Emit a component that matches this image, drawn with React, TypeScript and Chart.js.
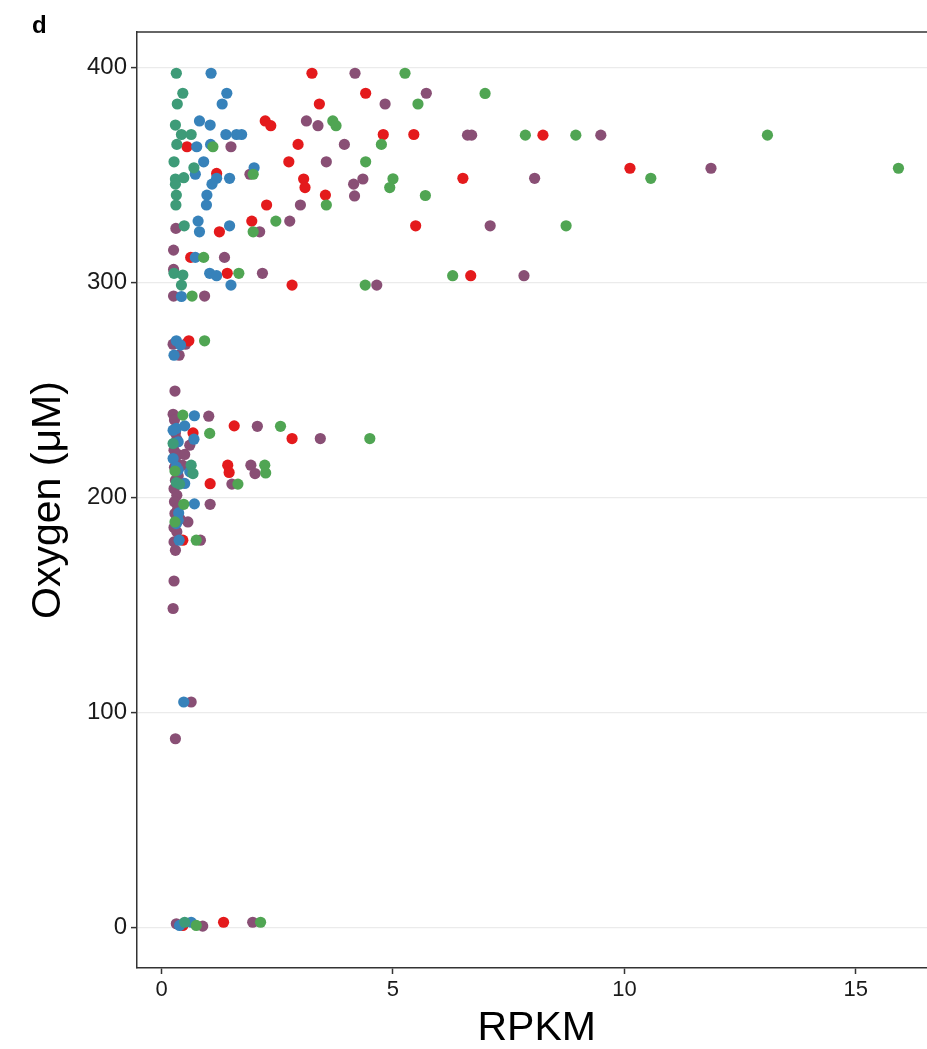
import React, { useEffect, useRef } from 'react';
import { Chart, registerables } from 'chart.js';

Chart.register(...registerables);

const FONT = '"Liberation Sans", Arial, Helvetica, sans-serif';

const xTicks = [0, 5, 10, 15];
const yTicks = [0, 100, 200, 300, 400];

const redX = [3.25, 4.41, 3.41, 2.24, 2.36, 4.79, 5.45, 8.24, 0.55, 2.95, 2.75, 1.19, 10.12, 3.07, 6.51, 3.10, 3.54, 2.27, 1.25, 1.95, 5.49, 0.63, 1.42, 6.68, 2.82, 0.59, 0.68, 1.57, 2.82, 1.43, 1.46, 1.05, 0.46, 0.46, 1.34];
const redY = [397.4, 388.1, 383.1, 375.2, 373.0, 368.9, 368.9, 368.6, 363.2, 364.3, 356.2, 350.8, 353.2, 348.2, 348.5, 344.2, 340.7, 336.1, 323.6, 328.6, 326.4, 311.7, 304.3, 303.2, 298.8, 272.9, 230.0, 233.3, 227.4, 215.0, 211.6, 206.4, 180.1, 0.8, 2.3];

const blueX = [1.07, 1.41, 1.31, 0.82, 1.05, 1.39, 1.62, 1.73, 0.76, 1.06, 0.91, 2.0, 0.73, 1.19, 1.47, 1.09, 0.98, 0.97, 0.79, 0.82, 1.47, 0.73, 1.04, 1.19, 1.50, 0.43, 0.32, 0.41, 0.27, 0.71, 0.32, 0.50, 0.25, 0.36, 0.70, 0.25, 0.32, 0.36, 0.61, 0.50, 0.71, 0.37, 0.36, 0.32, 0.38, 0.48, 0.39, 0.64];
const blueY = [397.4, 388.1, 383.1, 375.2, 373.3, 368.9, 368.9, 368.9, 363.2, 364.3, 356.2, 353.4, 350.4, 348.5, 348.5, 345.8, 340.7, 336.1, 328.6, 323.6, 326.4, 311.7, 304.3, 303.2, 298.8, 293.5, 272.9, 270.9, 266.2, 238.0, 232.1, 233.3, 231.3, 225.9, 227.1, 218.1, 214.2, 212.7, 211.9, 206.5, 197.0, 192.8, 189.4, 187.8, 180.1, 104.8, 0.8, 2.3];

const greenX = [5.26, 6.99, 5.54, 3.70, 3.77, 7.86, 8.95, 13.09, 1.11, 4.75, 4.41, 1.98, 15.92, 5.00, 10.57, 4.93, 5.70, 3.56, 1.98, 2.47, 8.74, 0.91, 1.67, 6.29, 4.40, 0.66, 0.93, 0.46, 1.04, 2.57, 4.50, 2.23, 2.25, 1.65, 0.29, 0.48, 0.29, 0.75, 0.75, 2.14];
const greenY = [397.4, 388.0, 383.1, 375.2, 373.0, 368.6, 368.6, 368.6, 363.2, 364.3, 356.2, 350.4, 353.2, 348.3, 348.5, 344.2, 340.5, 336.1, 323.6, 328.6, 326.4, 311.7, 304.3, 303.2, 298.8, 293.7, 272.9, 238.3, 229.8, 233.1, 227.4, 215.0, 211.4, 206.2, 212.3, 196.8, 188.6, 180.1, 0.8, 2.3];

const tealX = [0.32, 0.46, 0.34, 0.30, 0.43, 0.64, 0.33, 0.27, 0.70, 0.30, 0.48, 0.30, 0.32, 0.31, 0.49, 0.27, 0.46, 0.43, 0.25, 0.64, 0.68, 0.32, 0.39, 0.50];
const tealY = [397.4, 388.1, 383.1, 373.3, 368.9, 368.9, 364.3, 356.2, 353.4, 348.2, 348.8, 345.8, 340.7, 336.1, 326.4, 304.3, 303.5, 298.8, 225.1, 215.0, 211.1, 206.9, 206.2, 2.3];

const purpleX = [4.18, 5.72, 4.83, 3.13, 3.38, 6.61, 6.70, 9.49, 1.50, 3.95, 3.56, 1.91, 11.87, 4.35, 8.06, 4.15, 4.17, 3.00, 0.31, 2.12, 2.77, 7.10, 0.26, 1.36, 0.26, 2.18, 7.83, 4.65, 0.26, 0.93, 0.25, 0.52, 0.38, 0.29, 0.25, 1.02, 2.07, 3.43, 0.61, 1.93, 2.02, 1.52, 1.05, 0.57, 0.84, 0.27, 0.30, 0.27, 0.25, 0.64, 0.30, 0.32, 0.89, 1.97, 0.28, 0.30, 0.33, 0.27, 0.35, 0.30, 0.28, 0.36, 0.30, 0.27, 0.33, 0.28, 0.35, 0.29, 0.40, 0.27, 0.33, 0.50, 0.45];
const purpleY = [397.4, 388.1, 383.1, 375.2, 373.0, 368.6, 368.6, 368.6, 363.2, 364.3, 356.2, 350.4, 353.2, 348.2, 348.5, 345.8, 340.3, 336.1, 325.2, 323.6, 328.6, 326.4, 315.1, 311.7, 306.1, 304.3, 303.2, 298.8, 293.7, 293.7, 271.3, 271.3, 266.2, 249.5, 238.7, 237.8, 233.1, 227.4, 224.3, 215.0, 211.1, 206.2, 196.8, 188.6, 180.1, 179.3, 175.4, 161.1, 148.3, 104.8, 87.7, 1.6, 0.5, 2.3, 236, 230, 227, 222, 220, 217, 214, 210, 208, 204, 201, 198, 195, 192.5, 190, 186, 184, 220, 215];

const toPoints = (xs: number[], ys: number[]) => xs.map((x, i) => ({ x, y: ys[i] }));

const framePlugin = {
  id: 'frame',
  afterDraw(chart: any) {
    const { ctx, chartArea } = chart;
    ctx.save();
    ctx.strokeStyle = '#333333';
    ctx.lineWidth = 1.5;
    ctx.beginPath();
    ctx.moveTo(chartArea.left - 0.75, chartArea.top);
    ctx.lineTo(chartArea.right, chartArea.top);
    ctx.stroke();
    ctx.fillStyle = '#000';
    ctx.font = `bold 24px ${FONT}`;
    ctx.textBaseline = 'alphabetic';
    ctx.textAlign = 'left';
    ctx.fillText('d', 32, 33);
    ctx.restore();
  },
};

export default function App() {
  const ref = useRef<HTMLCanvasElement>(null);
  useEffect(() => {
    const canvas = ref.current;
    if (!canvas) return;
    const mk = (data: any[], color: string, order: number) => ({
      data,
      backgroundColor: color,
      borderWidth: 0,
      pointRadius: 5.6,
      pointHoverRadius: 5.6,
      order,
    });
    const chart = new Chart(canvas, {
      type: 'scatter',
      data: {
        datasets: [
          mk(toPoints(purpleX, purpleY), '#894F75', 4),
          mk(toPoints(redX, redY), '#E41A1C', 3),
          mk(toPoints(blueX, blueY), '#3782BA', 2),
          mk(toPoints(tealX, tealY), '#3E9B78', 1),
          mk(toPoints(greenX, greenY), '#50A553', 0),
        ],
      },
      options: {
        responsive: false,
        animation: false,
        devicePixelRatio: 1,
        layout: { padding: { top: 32, right: 0, left: 0, bottom: 0 } },
        plugins: { legend: { display: false }, tooltip: { enabled: false } },
        scales: {
          x: {
            type: 'linear',
            min: -0.53,
            max: 16.74,
            afterBuildTicks: (s: any) => {
              s.ticks = xTicks.map((v) => ({ value: v }));
            },
            afterFit: (s: any) => {
              s.height = 81;
              s.paddingLeft = 0;
              s.paddingRight = 0;
            },
            grid: { drawOnChartArea: false, tickLength: 6, tickColor: '#333333', tickWidth: 1.5 },
            border: { display: true, color: '#333333', width: 1.5 },
            ticks: { font: { family: FONT, size: 22 }, color: '#1a1a1a', padding: 3, maxRotation: 0 },
            title: {
              display: true,
              text: 'RPKM',
              font: { family: FONT, size: 41, lineHeight: 1 },
              color: '#000',
              padding: { top: 0, bottom: 0 },
            },
          },
          y: {
            type: 'linear',
            min: -19,
            max: 416.6,
            afterBuildTicks: (s: any) => {
              s.ticks = yTicks.map((v) => ({ value: v }));
            },
            afterFit: (s: any) => {
              s.width = 137;
              s.paddingTop = 0;
              s.paddingBottom = 0;
            },
            grid: { color: '#EBEBEB', lineWidth: 1.2, tickLength: 6, tickColor: '#333333', tickWidth: 1.5 },
            border: { display: true, color: '#333333', width: 1.5 },
            ticks: { font: { family: FONT, size: 24 }, color: '#1a1a1a', padding: 4 },
            title: {
              display: true,
              text: 'Oxygen (μM)',
              font: { family: FONT, size: 41, lineHeight: 1 },
              color: '#000',
              padding: { top: 28, bottom: 0 },
            },
          },
        },
      },
      plugins: [framePlugin],
    });
    return () => chart.destroy();
  }, []);
  return (
    <div style={{ position: 'absolute', left: 0, top: 0, width: 927, height: 1049, overflow: 'hidden' }}>
      <canvas ref={ref} width={942} height={1049} style={{ display: 'block' }} />
    </div>
  );
}
